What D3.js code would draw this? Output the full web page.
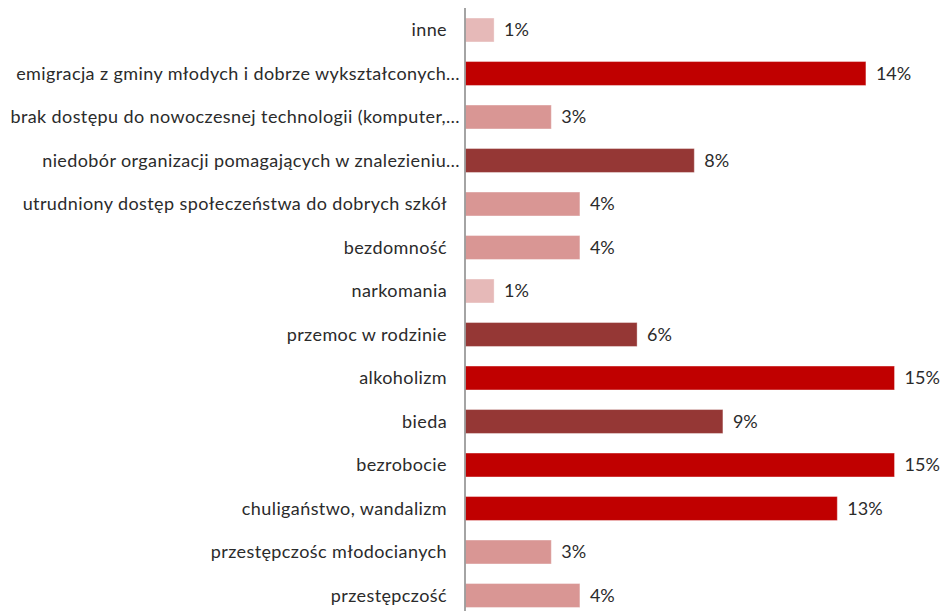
<!DOCTYPE html>
<html>
<head>
<meta charset="utf-8">
<script src="https://cdn.jsdelivr.net/npm/d3@7"></script>
<style>
  body { margin: 0; background: #fff; }
  svg { display: block; }
  text { font-family: Lato, "Open Sans", sans-serif; fill: #2b2b2b; }
  .cat-label { letter-spacing: 0.4px; }
</style>
</head>
<body>
<svg id="chart" width="940" height="611"></svg>
<script>
// Categories, top to bottom
const categories = [
    "inne",
    "emigracja z gminy młodych i dobrze wykształconych…",
    "brak dostępu do nowoczesnej technologii (komputer,…",
    "niedobór organizacji pomagających w znalezieniu…",
    "utrudniony dostęp społeczeństwa do dobrych szkół",
    "bezdomność",
    "narkomania",
    "przemoc w rodzinie",
    "alkoholizm",
    "bieda",
    "bezrobocie",
    "chuligaństwo, wandalizm",
    "przestępczośc młodocianych",
    "przestępczość"
];
// Share of answers, percent
const values = [1, 14, 3, 8, 4, 4, 1, 6, 15, 9, 15, 13, 3, 4];

// Colour by level
colorFor = v => {
    if (v >= 10) return "#C00000";
    if (v >= 5) return "#953735";
    if (v >= 2) return "#D99694";
    return "#E6B9B8";
};

const width = 940, height = 611;
const axisX = 465;
const fontSize = 18;

const svg = d3.select("#chart");

const x = d3.scaleLinear()
            .domain([0, 15])
            .range([axisX + 0.5, axisX + 0.5 + 15 * 28.6]);

const y = d3.scaleBand()
            .domain(categories)
            .range([8.25, 8.25 + 14 * 43.5])
            .paddingInner(0.45)
            .paddingOuter(0.225);

const data = categories.map((c, i) => ({cat: c, val: values[i]}));

// Bars
svg.append("g")
   .selectAll("rect")
   .data(data)
   .join("rect")
   .attr("x", x(0))
   .attr("y", d => y(d.cat))
   .attr("width", d => x(d.val) - x(0))
   .attr("height", y.bandwidth())
   .attr("fill", d => colorFor(d.val))
   .attr("stroke", "#fff")
   .attr("stroke-opacity", 0.35)
   .attr("stroke-width", 1);

// Value labels
svg.append("g")
   .selectAll("text")
   .data(data)
   .join("text")
   .attr("x", d => x(d.val) + 10)
   .attr("y", d => y(d.cat) + y.bandwidth() / 2)
   .attr("dy", "0.35em")
   .style("font-size", fontSize + "px")
   .text(d => d.val + "%");

// Category labels (truncated ones run a bit further right)
svg.append("g")
   .selectAll("text")
   .data(data)
   .join("text")
   .attr("class", "cat-label")
   .attr("x", d => d.cat.endsWith("…") ? 460 : 447)
   .attr("y", d => y(d.cat) + y.bandwidth() / 2)
   .attr("dy", "0.35em")
   .attr("text-anchor", "end")
   .style("font-size", fontSize + "px")
   .text(d => d.cat);

// Vertical axis line
svg.append("line")
   .attr("x1", axisX).attr("x2", axisX)
   .attr("y1", 8).attr("y2", height)
   .attr("stroke", "#868686")
   .attr("stroke-width", 1.5);
</script>
</body>
</html>
